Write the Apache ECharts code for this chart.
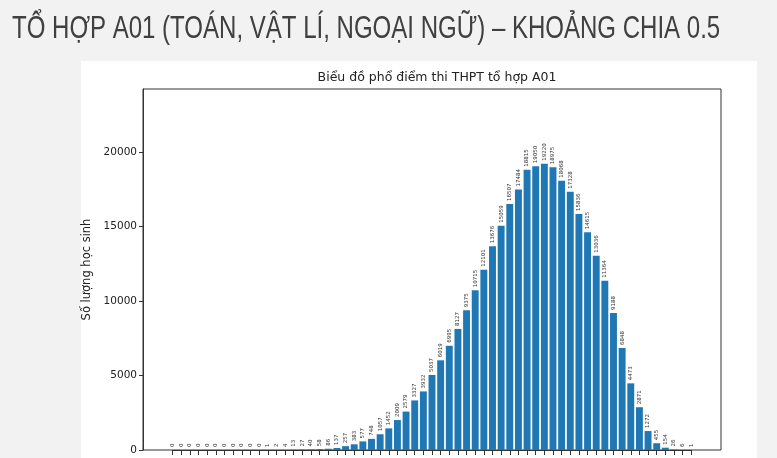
<!DOCTYPE html>
<html><head><meta charset="utf-8">
<script src="https://cdn.jsdelivr.net/npm/echarts@6/dist/echarts.min.js"></script>
<style>html,body{margin:0;padding:0;background:#f2f2f2;}#c{width:777px;height:458px;}</style>
</head><body><div id="c"></div>
<script>
const heading = 'TỔ HỢP A01 (TOÁN, VẬT LÍ, NGOẠI NGỮ) – KHOẢNG CHIA 0.5';
const chartTitle = 'Biểu đồ phổ điểm thi THPT tổ hợp A01';
const yAxisName = 'Số lượng học sinh';
const scores = [0,0.5,1,1.5,2,2.5,3,3.5,4,4.5,5,5.5,6,6.5,7,7.5,8,8.5,9,9.5,10,10.5,11,11.5,12,12.5,13,13.5,14,14.5,15,15.5,16,16.5,17,17.5,18,18.5,19,19.5,20,20.5,21,21.5,22,22.5,23,23.5,24,24.5,25,25.5,26,26.5,27,27.5,28,28.5,29,29.5,30];
const counts = [0,0,0,0,0,0,0,0,0,0,0,1,2,4,13,27,40,58,86,137,257,383,577,748,1057,1452,2009,2579,3327,3932,5037,6019,6995,8127,9375,10715,12101,13676,15059,16507,17484,18815,19050,19220,18975,18068,17328,15836,14615,13036,11364,9188,6848,4473,2871,1272,455,154,26,6,1];
const yMax = 24230;

const chart = echarts.init(document.getElementById('c'));
const frameLeft = 143, frameRight = 56, xMin = -1.72, xMax = 31.72;
const pxPerUnit = (777 - frameLeft - frameRight) / (xMax - xMin);
const innerLeft = frameLeft + (0 - xMin) * pxPerUnit;
const innerRight = frameRight + (xMax - 30) * pxPerUnit;
const barW = 0.4 * pxPerUnit;
chart.setOption({
  backgroundColor: '#f2f2f2',
  animation: false,
  graphic: [
    {type:'rect', z:-100, shape:{x:81,y:61,width:676,height:400}, style:{fill:'#ffffff'}},
    {type:'text', x: 12, y: 14, scaleX: 0.775,
     style:{text: heading, font: '31px "Liberation Sans"', fill:'#404040'}}
  ],
  title: {
    text: chartTitle, left: 432, top: 66, textAlign: 'center',
    textStyle: {fontFamily: 'DejaVu Sans', fontSize: 12.5, fontWeight: 'normal', color: '#222'}
  },
  grid: [
    {left: frameLeft, right: frameRight, top: 89, bottom: 8, show: true, borderColor: '#333', borderWidth: 1, backgroundColor: '#fff'},
    {left: innerLeft, right: innerRight, top: 89, bottom: 8, show: false}
  ],
  xAxis: [
    {gridIndex: 0, type: 'value', min: xMin, max: xMax, show: false},
    {gridIndex: 1, type: 'value', min: 0, max: 30, interval: 0.5, position: 'bottom',
     axisLine: {show: true, onZero: false, lineStyle:{color:'#333'}},
     axisTick: {show: true, length: 5, lineStyle:{color:'#333', width: 1}},
     axisLabel: {show: false},
     splitLine: {show: false}}
  ],
  yAxis: [
    {gridIndex: 0, type: 'value', min: 0, max: yMax, interval: 5000,
     axisLine: {show: true, onZero: false, lineStyle:{color:'#333'}},
     axisTick: {show: true, length: 4, lineStyle:{color:'#333'}},
     axisLabel: {showMaxLabel: false, formatter: v => String(v), fontFamily:'DejaVu Sans', fontSize: 10.5, color:'#222', margin: 6},
     splitLine: {show: false},
     name: yAxisName, nameLocation: 'middle', nameGap: 37, nameRotate: 90,
     nameTextStyle: {fontFamily:'DejaVu Sans', fontSize: 11.5, color:'#222'}},
    {gridIndex: 1, type: 'value', min: 0, max: yMax, show: false}
  ],
  series: [{
    type: 'bar', xAxisIndex: 1, yAxisIndex: 1, clip: false,
    data: scores.map((s, i) => [s, counts[i]]),
    barWidth: barW,
    itemStyle: {color: '#1f77b4'},
    label: {show: true, position: 'top', rotate: 90, align: 'left', verticalAlign: 'middle',
      distance: 3, fontFamily: 'DejaVu Sans', fontSize: 5.5, color: '#333',
      formatter: p => String(p.value[1])}
  }]
});
</script></body></html>
